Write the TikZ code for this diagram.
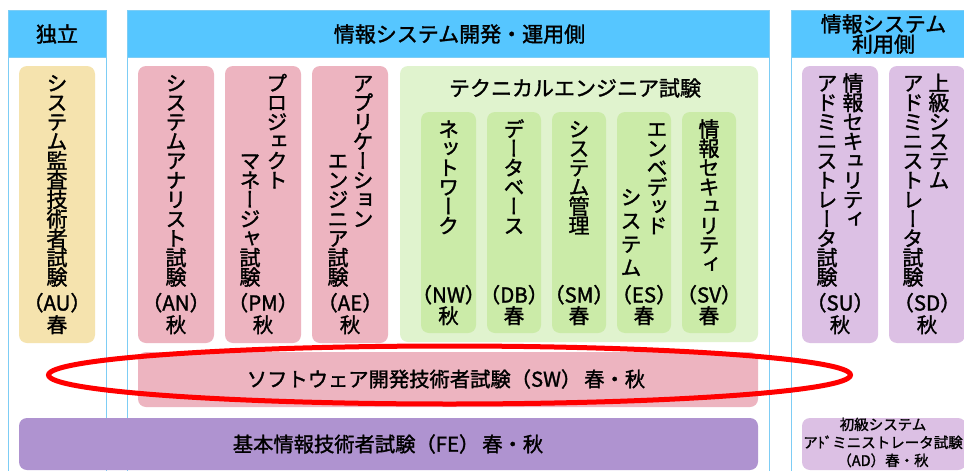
\documentclass[tikz,border=0pt]{standalone}
\usepackage{fontspec}
\setmainfont{Noto Sans CJK JP}
\newfontfamily\jp[FakeBold=1.5]{Noto Sans CJK JP}
\newfontfamily\vjp[RawFeature=+vert,FakeBold=1.5]{Noto Sans CJK JP}
\usetikzlibrary{shapes.geometric}
\definecolor{hdrblue}{RGB}{86,198,255}
\definecolor{lineblue}{RGB}{125,205,245}
\definecolor{auyel}{RGB}{245,227,174}
\definecolor{pinkb}{RGB}{237,180,192}
\definecolor{grnout}{RGB}{224,243,206}
\definecolor{grnin}{RGB}{203,235,168}
\definecolor{lpurp}{RGB}{220,192,228}
\definecolor{fepurp}{RGB}{175,147,208}
\newcommand\vcol[5]{\foreach \myc [count=\myi] in {#5} {\node[vch] (#1\myi) at (#2, {#3+8+(\myi-1)*#4}) {\myc};}}
\newcommand\hlab[4]{\node[hl] (#1) at (#2,{#3+7.5}) {#4};}
\begin{document}
\begin{tikzpicture}[x=1pt,y=-1pt,
  colframe/.style={draw=lineblue, line width=0.8pt, fill=white, inner sep=0},
  hdr/.style={draw=lineblue, fill=hdrblue, line width=0.8pt, inner sep=0},
  rbox/.style={rounded corners=8pt, inner sep=0, draw=none},
  vch/.style={font=\vjp\fontsize{21}{21}\selectfont, inner sep=0, anchor=base},
  hl/.style={font=\jp\fontsize{20.5}{20}\selectfont, inner sep=0, anchor=base},
  htxt/.style={font=\jp\fontsize{21}{19}\selectfont, inner sep=0, align=center}]
\useasboundingbox (0,0) rectangle (964,471);
\clip (0,0) rectangle (964,471);
\fill[white] (0,0) rectangle (964,471);
% columns
\node[colframe, minimum width=98pt, minimum height=470pt] (cind) at (57,245) {};
\node[colframe, minimum width=642pt, minimum height=470pt] (cdev) at (448,245) {};
\node[colframe, minimum width=199pt, minimum height=470pt] (cuse) at (890.5,245) {};
% headers
\node[hdr, minimum width=98pt, minimum height=47pt] (hind) at (57,33.5) {};
\node[hdr, minimum width=642pt, minimum height=47pt] (hdev) at (448,33.5) {};
\node[hdr, minimum width=199pt, minimum height=47pt] (huse) at (890.5,33.5) {};
\node[htxt] (tind) at (57,34) {独立};
\node[htxt] (tdev) at (459.5,34) {情報システム開発・運用側};
\node[htxt] (tuse) at (883.5,34) {情報システム\\利用側};
% boxes
\node[rbox, fill=auyel, minimum width=76pt, minimum height=277pt] (au) at (57,204.5) {};
\node[rbox, fill=pinkb, minimum width=76pt, minimum height=277pt] (an) at (176,204.5) {};
\node[rbox, fill=pinkb, minimum width=76pt, minimum height=277pt] (pm) at (263,204.5) {};
\node[rbox, fill=pinkb, minimum width=76pt, minimum height=277pt] (ae) at (350,204.5) {};
\node[rbox, fill=grnout, minimum width=358pt, minimum height=276pt] (te) at (579,204) {};
\node[rbox, fill=grnin, minimum width=55pt, minimum height=221pt] (nw) at (448.5,222.5) {};
\node[rbox, fill=grnin, minimum width=54pt, minimum height=221pt] (db) at (514,222.5) {};
\node[rbox, fill=grnin, minimum width=54pt, minimum height=221pt] (sm) at (579,222.5) {};
\node[rbox, fill=grnin, minimum width=54pt, minimum height=221pt] (es) at (644,222.5) {};
\node[rbox, fill=grnin, minimum width=54pt, minimum height=221pt] (sv) at (709,222.5) {};
\node[rbox, fill=lpurp, minimum width=76pt, minimum height=277pt] (su) at (840,204.5) {};
\node[rbox, fill=lpurp, minimum width=76pt, minimum height=277pt] (sd) at (927,204.5) {};
\node[rbox, fill=pinkb, minimum width=620pt, minimum height=55pt] (sw) at (448,379.5) {};
\node[rbox, fill=fepurp, minimum width=739pt, minimum height=52pt] (fe) at (388.5,444) {};
\node[rbox, fill=lpurp, minimum width=164pt, minimum height=52pt] (ad) at (884,444) {};
% vertical texts
\vcol{au}{57}{83}{19.4}{シ,ス,テ,ム,監,査,技,術,者,試,験}
\vcol{an}{176}{83}{19.4}{シ,ス,テ,ム,ア,ナ,リ,ス,ト,試,験}
\vcol{pmr}{277}{83}{19.4}{プ,ロ,ジ,ェ,ク,ト}
\vcol{pml}{250}{160.6}{19.4}{マ,ネ,ー,ジ,ャ,試,験}
\vcol{aer}{363}{83}{19.4}{ア,プ,リ,ケ,ー,シ,ョ,ン}
\vcol{ael}{338}{160.6}{19.4}{エ,ン,ジ,ニ,ア,試,験}
\vcol{nwt}{448.5}{129}{19.3}{ネ,ッ,ト,ワ,ー,ク}
\vcol{dbt}{514}{129}{19.3}{デ,ー,タ,ベ,ー,ス}
\vcol{smt}{579}{129}{19.3}{シ,ス,テ,ム,管,理}
\vcol{esr}{657}{129}{19.3}{エ,ン,ベ,デ,ッ,ド}
\vcol{esl}{631}{197}{23.5}{シ,ス,テ,ム}
\vcol{svt}{709}{129}{19.3}{情,報,セ,キ,ュ,リ,テ,ィ}
\vcol{sur}{853}{83}{19.4}{情,報,セ,キ,ュ,リ,テ,ィ}
\vcol{sul}{827}{83}{19.4}{ア,ド,ミ,ニ,ス,ト,レ,ー,タ,試,験}
\vcol{sdr}{939}{83}{19.4}{上,級,シ,ス,テ,ム}
\vcol{sdl}{913}{83}{19.4}{ア,ド,ミ,ニ,ス,ト,レ,ー,タ,試,験}
% horizontal labels
\hlab{auc}{57}{303}{（AU）}  \hlab{aus}{57}{325}{春}
\hlab{anc}{176}{303}{（AN）} \hlab{ans}{176}{325}{秋}
\hlab{pmc}{263}{303}{（PM）} \hlab{pms}{263}{325}{秋}
\hlab{aec}{350}{303}{（AE）} \hlab{aes}{350}{325}{秋}
\hlab{nwc}{448.5}{295}{（NW）} \hlab{nws}{448.5}{316}{秋}
\hlab{dbc}{514}{295}{（DB）} \hlab{dbs}{514}{316}{春}
\hlab{smc}{579}{295}{（SM）} \hlab{sms}{579}{316}{春}
\hlab{esc}{644}{295}{（ES）} \hlab{ess}{644}{316}{春}
\hlab{svc}{709}{295}{（SV）} \hlab{svs}{709}{316}{春}
\hlab{suc}{840}{303}{（SU）} \hlab{sus}{840}{325}{秋}
\hlab{sdc}{927}{303}{（SD）} \hlab{sds}{927}{325}{秋}
\node[htxt] (tet) at (575,88) {テクニカルエンジニア試験};
\node[htxt, font=\jp\fontsize{20.3}{19}\selectfont] (swt) at (446,379) {ソフトウェア開発技術者試験（SW）\hspace{3pt}春・秋};
\node[htxt, font=\jp\fontsize{20.3}{19}\selectfont] (fet) at (388,444) {基本情報技術者試験（FE）\hspace{3pt}春・秋};
\node[font=\jp\fontsize{14.5}{18}\selectfont, inner sep=0, align=center] (adt) at (883,442.5) {初級システム\\アﾄﾞミニストレータ試験\\（AD）春・秋};
% red ring
\node[draw=red, line width=5pt, ellipse, minimum width=802pt, minimum height=58pt, inner sep=0] (ring) at (449.5,375) {};
\end{tikzpicture}
\end{document}
